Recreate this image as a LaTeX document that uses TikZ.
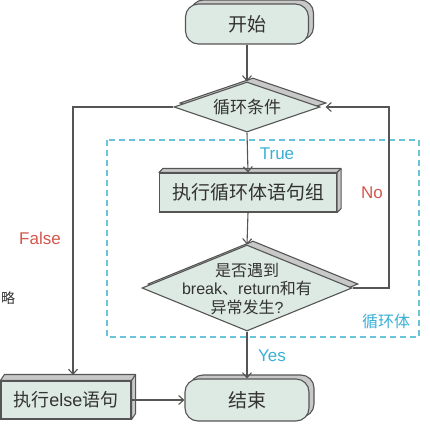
\documentclass[tikz,border=0pt]{standalone}
\usepackage{fontspec}
\setmainfont{Liberation Sans}
\newfontfamily\cjk{Noto Sans CJK SC}
\usetikzlibrary{arrows.meta,shapes.geometric,shadows}
\definecolor{txt}{HTML}{333333}
\definecolor{boxfill}{HTML}{DDE9E3}
\definecolor{shd}{HTML}{C8C8C8}
\definecolor{edge}{HTML}{555555}
\definecolor{lblue}{HTML}{3AAFD6}
\definecolor{lred}{HTML}{D4564C}
\definecolor{dashc}{HTML}{6CC4DC}
\begin{document}
\begin{tikzpicture}[x=1pt,y=-1pt,
  base/.style={draw=edge, line width=1.1pt, fill=boxfill, text=txt, inner sep=0pt},
  term/.style={base, rectangle, rounded corners=13pt,
    copy shadow={shadow xshift=5pt, shadow yshift=4pt, fill=shd, draw=edge},
    font=\cjk\fontsize{19}{22}\selectfont},
  procbox/.style={base, rectangle, font=\cjk\fontsize{19}{22}\selectfont},
  dia/.style={base, diamond,
    copy shadow={shadow xshift=6pt, shadow yshift=4pt, fill=shd, draw=edge}},
  face/.style={fill=shd, draw=edge, line width=1.1pt, line join=round},
  dtext/.style={text=txt, inner sep=0pt, align=center},
  arr/.style={draw=edge, line width=1.1pt, -{Straight Barb[length=5pt,width=9pt]}},
  lab/.style={font=\fontsize{17}{20}\selectfont, inner sep=0pt},
  frame/.style={draw=dashc, line width=1.2pt, dash pattern=on 6pt off 4pt}
]
\useasboundingbox (0,0) rectangle (430,437);
\clip (0,0) rectangle (430,437);

% loop frame
\draw[frame] (107,140) rectangle (419,337);

% nodes
\node[term, minimum width=123pt, minimum height=40pt] (start) at (247,24) {开始};
\node[dia, minimum width=146pt, minimum height=50pt] (cond) at (247,107) {};
\node[dtext, font=\cjk\fontsize{17}{20}\selectfont] (condtxt) at (cond.center) {循环条件};

\node[procbox, minimum width=177pt, minimum height=39pt] (body) at (248,192.5) {执行循环体语句组};
\filldraw[face] (body.north west) -- ([shift={(4,-4)}]body.north west)
  -- ([shift={(4,-4)}]body.north east) -- ([shift={(4,-4)}]body.south east)
  -- (body.south east) -- (body.north east) -- cycle;
\draw[edge, line width=1.1pt] (body.north east) -- ([shift={(4,-4)}]body.north east);

\node[dia, minimum width=210pt, minimum height=86pt] (check) at (247,288) {};
\node[dtext, font=\fontsize{16}{18.5}\selectfont] (checktxt) at ([yshift=-1pt]check.center)
  {{\cjk 是否遇到}\\break{\cjk 、}return{\cjk 和有}\\{\cjk 异常发生}?};

\node[term, minimum width=124pt, minimum height=42pt] (end) at (247,400) {结束};

\node[procbox, minimum width=130pt, minimum height=38pt,
  font=\fontsize{18}{21}\selectfont] (else) at (66,400) {{\cjk 执行}else{\cjk 语句}};
\filldraw[face] (else.north west) -- ([shift={(4,-6)}]else.north west)
  -- ([shift={(4,-6)}]else.north east) -- ([shift={(4,-6)}]else.south east)
  -- (else.south east) -- (else.north east) -- cycle;
\draw[edge, line width=1.1pt] (else.north east) -- ([shift={(4,-6)}]else.north east);

\coordinate (elsein) at (73,375);
\coordinate (loopin) at ([xshift=5pt]cond.east);

% connectors
\draw[arr] (start.south) -- (cond.north);
\draw[arr] (cond.south) -- (body.north);
\draw[arr] (body.south) -- (check.north);
\draw[arr] (check.south) -- (end.north);
\draw[arr] (check.east) -- (389,288) |- (loopin);
\draw[arr] (cond.west) -| (elsein);
\draw[arr] (else.east) -- (end.west);

% labels
\node[lab, text=lblue] (ltrue) at (277,154) {True};
\node[lab, text=lred] (lno) at (372,193) {No};
\node[lab, text=lred] (lfalse) at (40,238) {False};
\node[lab, text=lblue] (lyes) at (272,356) {Yes};
\node[lab, text=lblue, font=\cjk\fontsize{16}{19}\selectfont] (lbody) at (386,321) {循环体};
\node[lab, text=txt, font=\cjk\fontsize{14}{17}\selectfont, anchor=west] (cut) at (1,298) {略};
\end{tikzpicture}
\end{document}
